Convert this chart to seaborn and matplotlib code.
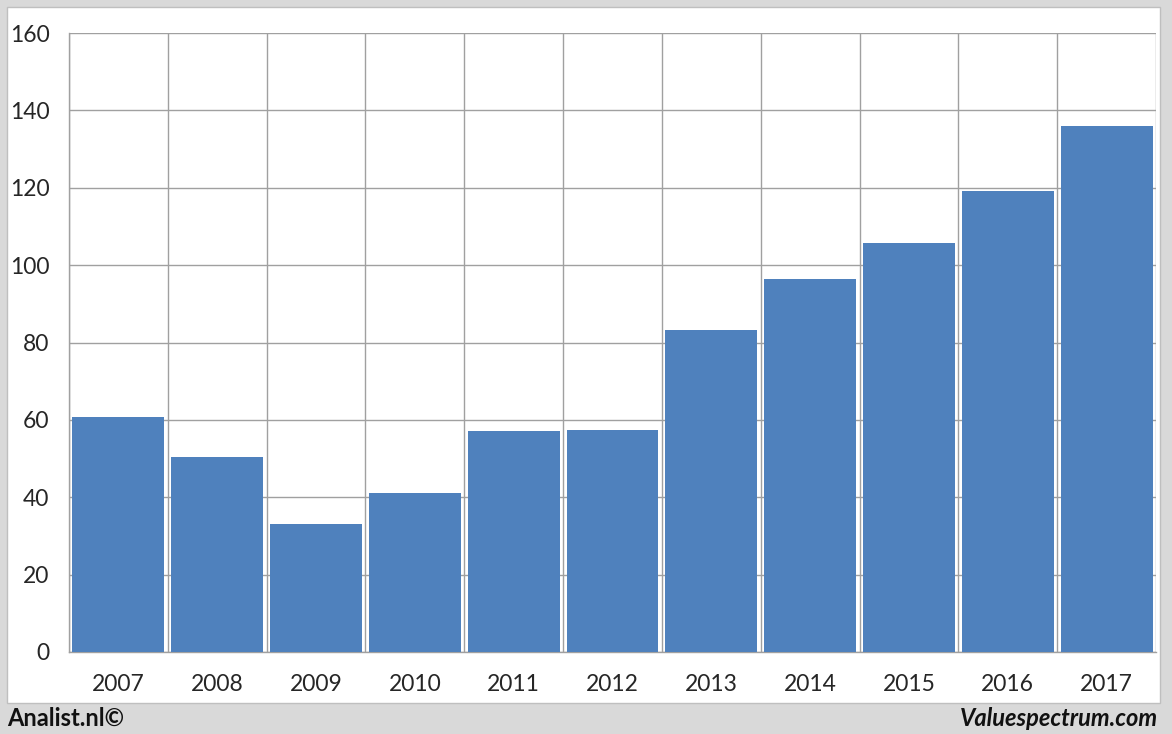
import matplotlib
matplotlib.use("Agg")
import matplotlib.pyplot as plt
import seaborn as sns
import pandas as pd
from matplotlib.patches import Rectangle

# values
years = ["2007", "2008", "2009", "2010", "2011", "2012",
         "2013", "2014", "2015", "2016", "2017"]
values = [60.7, 50.4, 33.1, 41.1, 57.1, 57.4, 83.2, 96.4, 105.7, 119.2, 136.0]
y_ticks = [0, 20, 40, 60, 80, 100, 120, 140, 160]

df = pd.DataFrame({"year": years, "value": values})

sns.set_style("white")
plt.rcParams["font.family"] = ["Lato", "DejaVu Sans"]

fig = plt.figure(figsize=(11.72, 7.34), dpi=100)
fig.patch.set_facecolor("#d9d9d9")
# white inner panel
fig.patches.append(Rectangle((7 / 1172, 1 - 703 / 734), (1160 - 7) / 1172, (703 - 7) / 734,
                             transform=fig.transFigure, facecolor="white",
                             edgecolor="#bfbfbf", linewidth=1, zorder=-5))

ax = fig.add_axes([69 / 1172, 1 - 652 / 734, (1156 - 69) / 1172, (652 - 33) / 734])
ax.set_facecolor("white")
sns.barplot(data=df, x="year", y="value", color="#4f81bd", saturation=1,
            width=0.93, edgecolor="none", ax=ax, zorder=3)

ax.set_xlim(-0.5, len(years) - 0.5)
ax.set_ylim(0, 160)
ax.set_yticks(y_ticks)
ax.set_xlabel("")
ax.set_ylabel("")

# gridlines at category boundaries
ax.set_xticks([i - 0.5 for i in range(len(years) + 1)], minor=True)
ax.grid(True, which="minor", axis="x", color="#a0a0a0", linewidth=1, zorder=1)
ax.grid(True, which="major", axis="y", color="#a0a0a0", linewidth=1, zorder=1)
ax.grid(False, which="major", axis="x")
ax.set_axisbelow(True)

ax.tick_params(axis="x", which="major", length=0, pad=16, labelsize=16.5)
ax.tick_params(axis="x", which="minor", length=8, color="#a0a0a0", width=1)
ax.tick_params(axis="y", which="major", length=8, color="#a0a0a0", width=1, pad=6, labelsize=16.5)

for side in ["top", "right"]:
    ax.spines[side].set_visible(False)
for side in ["left", "bottom"]:
    ax.spines[side].set_color("#a0a0a0")
    ax.spines[side].set_linewidth(1)

fig.text(7 / 1172, 1 - 718 / 734, "Analist.nl©", fontsize=17, fontweight="bold",
         ha="left", va="center", color="#111111")
fig.text(1158 / 1172, 1 - 718 / 734, "Valuespectrum.com", fontsize=17, fontweight="bold",
         fontstyle="italic", ha="right", va="center", color="#111111")

fig.savefig("out.png", dpi=100, facecolor=fig.get_facecolor())
